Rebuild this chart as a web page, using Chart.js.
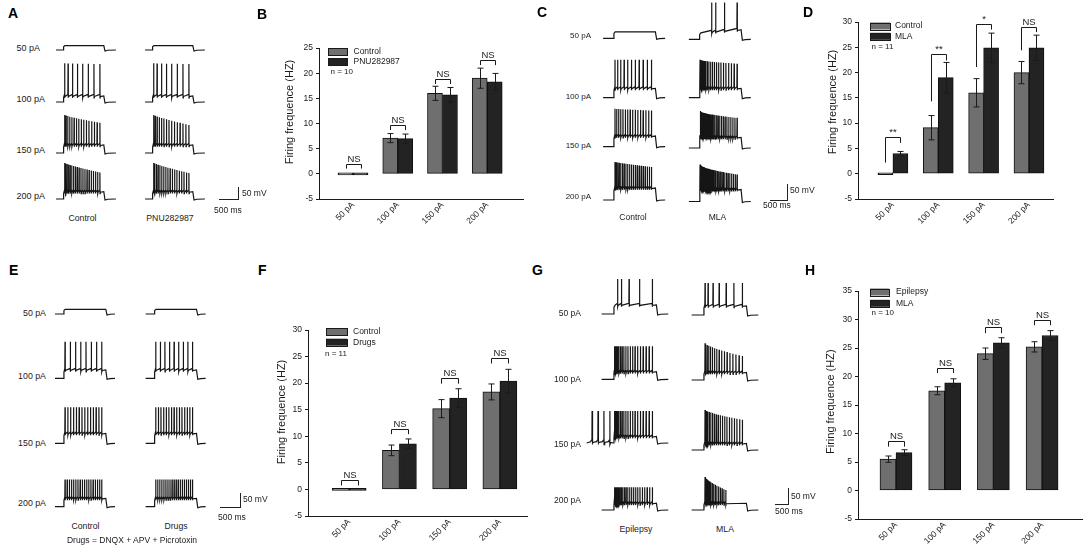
<!DOCTYPE html>
<html><head><meta charset="utf-8">
<title>Firing frequence figure</title>
<script src="https://cdn.jsdelivr.net/npm/chart.js@4.4.1/dist/chart.umd.min.js"></script>
<style>
html,body{margin:0;padding:0;background:#fff;}
body{width:1084px;height:548px;position:relative;overflow:hidden;font-family:"Liberation Sans",Arial,Helvetica,sans-serif;color:#1a1a1a;}
.t{position:absolute;white-space:nowrap;line-height:1;transform:translateY(-50%);}
.t.c{transform:translate(-50%,-50%);}
.t.r{transform:translate(-100%,-50%);}
.t.b{font-weight:bold;color:#000;}
canvas{position:absolute;}
.sb{position:absolute;background:#222;}
</style></head><body>
<canvas id="trA"></canvas><canvas id="trC"></canvas><canvas id="trE"></canvas><canvas id="trG"></canvas>
<canvas id="chB"></canvas><canvas id="chD"></canvas><canvas id="chF"></canvas><canvas id="chH"></canvas>
<script>
// ================= DATA =================
const currents = ['50 pA', '100 pA', '150 pA', '200 pA'];
const yTitle = 'Firing frequence (HZ)';

// ---- B : Control vs PNU282987
const bNames = ['Control', 'PNU282987'];
const bControl = [0, 7.1, 16.0, 19.0];
const bControlErr = [0, 0.9, 1.4, 2.0];
const bPnu = [0, 7.0, 15.7, 18.3];
const bPnuErr = [0, 0.9, 1.45, 1.65];
const bSig = ['NS', 'NS', 'NS', 'NS'];
const bBracketTop = [2.05, 9.7, 18.85, 22.6];
const bBracketLeft = [1.05, 8.7, 17.85, 21.6];
const bBracketRight = [1.05, 8.7, 17.85, 21.6];
const bYTicks = [-5, 0, 5, 10, 15, 20, 25];
const bN = 'n = 10';

// ---- D : Control vs MLA
const dNames = ['Control', 'MLA'];
const dControl = [0, 9.1, 16.0, 20.0];
const dControlErr = [0, 2.4, 2.8, 2.2];
const dMla = [4.0, 19.0, 24.9, 24.9];
const dMlaErr = [0.4, 3.0, 2.9, 2.5];
const dSig = ['**', '**', '*', 'NS'];
const dBracketTop = [7.3, 23.75, 29.7, 29.1];
const dBracketLeft = [2.2, 14.3, 21.1, 24.4];
const dBracketRight = [6.1, 22.4, 28.5, 28.0];
const dYTicks = [-5, 0, 5, 10, 15, 20, 25, 30];
const dN = 'n = 11';

// ---- F : Control vs Drugs
const fNames = ['Control', 'Drugs'];
const fControl = [0, 7.35, 15.2, 18.35];
const fControlErr = [0, 1.0, 1.7, 1.5];
const fDrugs = [0, 8.6, 17.2, 20.4];
const fDrugsErr = [0, 0.9, 1.75, 2.2];
const fSig = ['NS', 'NS', 'NS', 'NS'];
const fBracketTop = [1.8, 11.4, 21.05, 24.8];
const fBracketLegs = [0.75, 10.4, 19.9, 23.7];
const fYTicks = [-5, 0, 5, 10, 15, 20, 25, 30];
const fN = 'n = 11';

// ---- H : Epilepsy vs MLA
const hNames = ['Epilepsy', 'MLA'];
const hEpilepsy = [5.5, 17.5, 24.0, 25.2];
const hEpilepsyErr = [0.55, 0.7, 1.0, 0.9];
const hMla = [6.65, 18.9, 25.9, 27.2];
const hMlaErr = [0.5, 0.7, 0.9, 0.85];
const hSig = ['NS', 'NS', 'NS', 'NS'];
const hBracketTop = [8.6, 21.5, 28.6, 29.85];
const hBracketLegs = [7.7, 20.6, 27.6, 29.0];
const hYTicks = [-5, 0, 5, 10, 15, 20, 25, 30, 35];
const hN = 'n = 10';

// ---- Example traces (spike counts per 1 s step, amplitudes in mV above rest)
const aNames = ['Control', 'PNU282987'];
const aControlSpikes = [0, 8, 16, 20];
const aPnuSpikes = [0, 8, 15, 18];
const aPlateau = [17, 23, 31, 28];
const aControlPeakFirst = [0, 149, 146, 139];
const aControlPeakLast = [0, 146, 116, 102];
const aPnuPeakFirst = [0, 149, 146, 139];
const aPnuPeakLast = [0, 146, 108, 100];

const cNames = ['Control', 'MLA'];
const cControlSpikes = [0, 11, 16, 21];
const cMlaSpikes = [4, 22, 30, 34];
const cPlateau = [25, 36, 41, 46];
const cControlPeakFirst = [0, 146, 146, 146];
const cControlPeakLast = [0, 146, 139, 127];
const cMlaPeakFirst = [142, 146, 142, 142];
const cMlaPeakLast = [142, 131, 116, 104];
const cMlaLatency = [0.3, 0.02, 0.01, 0.01];
const cMlaRamp = [12, 0, 0, 0];

const eNames = ['Control', 'Drugs'];
const eControlSpikes = [0, 8, 14, 18];
const eDrugsSpikes = [0, 9, 15, 19];
const ePlateau = [18, 32, 38, 32];
const ePeak = [0, 141, 139, 105];
const eNote = 'Drugs = DNQX + APV + Picrotoxin';

const gNames = ['Epilepsy', 'MLA'];
const gEpilepsySpikes = [5, 20, 20, 24];
const gMlaSpikes = [7, 17, 20, 16];
const gEpilepsySpont = [0, 0, 4, 0];
const gPlateau = [35, 29, 25, 26];
const gEpilepsyPeak = [135, 127, 123, 88];
const gMlaPeakFirst = [123, 141, 154, 127];
const gMlaPeakLast = [123, 92, 116, 77];
const gEpilepsyLatency = [0.1, 0.02, 0.02, 0.02];
const gMlaStop = [0.93, 0.93, 0.93, 0.55];

const scaleBarText = ['50 mV', '500 ms'];

// ================= STYLE / LAYOUT =================
const FONT = '"Liberation Sans", Arial, Helvetica, sans-serif';
const GRAY = '#6f6f6f', DARK = '#232323', INK = '#1a1a1a';
Chart.defaults.font.family = FONT;
Chart.defaults.color = INK;
const MV_PER_PX = 3.85;

function txt(s, x, y, size, cls) {
  const d = document.createElement('div');
  d.className = 't' + (cls ? ' ' + cls : '');
  d.style.left = x + 'px'; d.style.top = y + 'px'; d.style.fontSize = size + 'px';
  d.textContent = s; document.body.appendChild(d); return d;
}
function rule(x, y, w, h) {
  const d = document.createElement('div');
  d.className = 'sb'; d.style.left = x + 'px'; d.style.top = y + 'px';
  d.style.width = w + 'px'; d.style.height = h + 'px'; document.body.appendChild(d);
}

// panel letters
[['A', 8, 13], ['B', 257, 13.5], ['C', 537, 12], ['D', 803, 12.3],
 ['E', 9, 270], ['F', 258, 270], ['G', 532, 270], ['H', 805, 270]].forEach(p => txt(p[0], p[1], p[2], 14, 'b'));

// ---- trace sweeps
function sweepPoints(s) {
  const pts = [];
  const dur = 1000;
  pts.push([-s.pre, 0]);
  if (s.spont > 0) {
    const a = -(s.pre - 125), b = -80;
    for (let i = 0; i < s.spont; i++) {
      const t = s.spont === 1 ? b : a + (b - a) * i / (s.spont - 1);
      pts.push([t - 35, 5], [t - 3, 13], [t, s.peak0], [t + 3, -6], [t + 18, 2]);
    }
  }
  pts.push([0, 0], [15, s.plateau * 0.75], [45, s.plateau]);
  const plat = t => s.plateau + s.ramp * t / dur;
  const n = s.spikes;
  if (n > 0) {
    const t0 = Math.max(25, dur * s.latency);
    const t1 = Math.max(t0, dur * s.stop - 30);
    for (let i = 0; i < n; i++) {
      const f = n === 1 ? 0 : i / (n - 1);
      const t = t0 + (t1 - t0) * Math.pow(f, s.expo);
      const pk = s.peak0 + (s.peak1 - s.peak0) * f;
      const p = plat(t);
      pts.push([t - 4, p + 6], [t, pk], [t + 3, p - 7], [t + 9, p - 2]);
    }
  }
  pts.push([dur - 5, plat(dur)], [dur + 25, -4], [dur + 90, -1], [dur + s.post, 0]);
  pts.sort((u, v) => u[0] - v[0]);
  return pts;
}

function tracePanel(id, g, cols) {
  const cv = document.getElementById(id);
  cv.style.left = g.left + 'px'; cv.style.top = g.top + 'px';
  cv.width = g.w; cv.height = g.h; cv.style.width = g.w + 'px'; cv.style.height = g.h + 'px';
  const pxPerMs = g.stepPx / 1000;
  const datasets = [];
  cols.forEach(col => {
    for (let r = 0; r < 4; r++) {
      const spec = {
        spikes: col.spikes[r], peak0: col.peak0[r], peak1: col.peak1[r],
        plateau: g.plateau[r], ramp: col.ramp ? col.ramp[r] : 0,
        latency: col.latency ? col.latency[r] : 0.04,
        stop: col.stop ? col.stop[r] : 0.93,
        spont: col.spont ? col.spont[r] : 0,
        expo: col.expo, pre: (col.spont && col.spont[r]) ? g.spontPre : g.pre, post: g.post
      };
      const x0 = (col.onX - g.left) / pxPerMs;
      const y0 = (g.top + g.h - col.base[r]) * MV_PER_PX;
      datasets.push({
        label: col.name + ' ' + currents[r],
        data: sweepPoints(spec).map(p => ({ x: x0 + p[0], y: y0 + p[1] })),
        borderColor: '#151515', borderWidth: 1.2, pointRadius: 0, tension: 0, fill: false
      });
    }
    txt(col.name, col.labelX, g.labelY, g.labelSize, 'c');
  });
  new Chart(cv, {
    type: 'line', data: { datasets },
    options: {
      responsive: false, animation: false, events: [],
      layout: { padding: 0 },
      scales: {
        x: { type: 'linear', display: false, min: 0, max: g.w / pxPerMs },
        y: { type: 'linear', display: false, min: 0, max: g.h * MV_PER_PX }
      },
      plugins: { legend: { display: false }, tooltip: { enabled: false } }
    }
  });
  currents.forEach((c, r) => {
    if (g.curAlign === 'r') txt(c, g.curX, g.curY[r], g.curSize, 'r');
    else txt(c, g.curX, g.curY[r], g.curSize);
  });
  const sb = g.bar;
  rule(sb.x, sb.y0, 1, sb.y1 - sb.y0 + 1);
  rule(sb.hx, sb.y1, sb.x - sb.hx + 1, 1);
  txt(scaleBarText[0], sb.mvX, sb.mvY, 8.5);
  txt(scaleBarText[1], sb.msX, sb.msY, 8.5);
}

tracePanel('trA', {
  left: 50, top: 20, w: 175, h: 190, stepPx: 41, pre: 170, post: 290, spontPre: 170,
  plateau: aPlateau, labelY: 218.3, labelSize: 8.7,
  curX: 16.5, curY: [48.3, 99, 150, 196], curSize: 9, curAlign: 'l',
  bar: { x: 238, y0: 186.5, y1: 199, hx: 219, mvX: 242, mvY: 192.7, msX: 214, msY: 210 }
}, [
  { name: aNames[0], spikes: aControlSpikes, peak0: aControlPeakFirst, peak1: aControlPeakLast,
    expo: 1.2, onX: 63, base: [50, 102, 153, 199], labelX: 82.5 },
  { name: aNames[1], spikes: aPnuSpikes, peak0: aPnuPeakFirst, peak1: aPnuPeakLast,
    expo: 1.2, onX: 152, base: [50, 102, 153, 199], labelX: 170 }
]);

tracePanel('trC', {
  left: 595, top: 0, w: 165, h: 212, stepPx: 42.3, pre: 240, post: 225, spontPre: 240,
  plateau: cPlateau, labelY: 217.3, labelSize: 8.5,
  curX: 591, curY: [36, 96.7, 146, 196.7], curSize: 8, curAlign: 'r',
  bar: { x: 786.5, y0: 184, y1: 200, hx: 770, mvX: 790, mvY: 190, msX: 763, msY: 204.5 }
}, [
  { name: cNames[0], spikes: cControlSpikes, peak0: cControlPeakFirst, peak1: cControlPeakLast,
    expo: 1.15, onX: 613.3, base: [38.3, 97.7, 146.7, 200], labelX: 633 },
  { name: cNames[1], spikes: cMlaSpikes, peak0: cMlaPeakFirst, peak1: cMlaPeakLast,
    latency: cMlaLatency, ramp: cMlaRamp,
    expo: 1.7, onX: 699, base: [39.3, 97.7, 148, 201.5], labelX: 717.5 }
]);

tracePanel('trE', {
  left: 50, top: 290, w: 170, h: 225, stepPx: 42.7, pre: 195, post: 210, spontPre: 195,
  plateau: ePlateau, labelY: 526, labelSize: 8.7,
  curX: 46, curY: [313.3, 376, 442.7, 503.3], curSize: 8.8, curAlign: 'r',
  bar: { x: 240, y0: 492.7, y1: 506.7, hx: 220, mvX: 243, mvY: 499.3, msX: 218, msY: 516.7 }
}, [
  { name: eNames[0], spikes: eControlSpikes, peak0: ePeak, peak1: ePeak,
    expo: 1.0, onX: 63.3, base: [314, 378.3, 443.3, 506.7], labelX: 85.5 },
  { name: eNames[1], spikes: eDrugsSpikes, peak0: ePeak, peak1: ePeak,
    expo: 1.0, onX: 154, base: [314, 378.3, 443.3, 506.7], labelX: 176 }
]);
txt(eNote, 132, 540, 8.5, 'c');

tracePanel('trG', {
  left: 575, top: 272, w: 190, h: 245, stepPx: 43.3, pre: 270, post: 270, spontPre: 615,
  plateau: gPlateau, labelY: 529.3, labelSize: 8.7,
  curX: 581, curY: [313.3, 379.3, 444, 500], curSize: 8.5, curAlign: 'r',
  bar: { x: 787.5, y0: 488, y1: 504, hx: 775, mvX: 791, mvY: 496, msX: 775, msY: 511 }
}, [
  { name: gNames[0], spikes: gEpilepsySpikes, peak0: gEpilepsyPeak, peak1: gEpilepsyPeak,
    latency: gEpilepsyLatency, spont: gEpilepsySpont,
    expo: 1.6, onX: 613.3, base: [314, 379.3, 443, 510], labelX: 636 },
  { name: gNames[1], spikes: gMlaSpikes, peak0: gMlaPeakFirst, peak1: gMlaPeakLast,
    stop: gMlaStop,
    expo: 1.4, onX: 703.3, base: [315, 380, 450, 510], labelX: 725 }
]);

// ---- bar charts
const decorPlugin = {
  id: 'decor',
  afterDatasetsDraw(chart, args, o) {
    const ctx = chart.ctx, ys = chart.scales.y, ca = chart.chartArea;
    const line = (x1, y1, x2, y2) => { ctx.beginPath(); ctx.moveTo(x1, y1); ctx.lineTo(x2, y2); ctx.stroke(); };
    ctx.save();
    ctx.strokeStyle = INK; ctx.lineWidth = 1; ctx.fillStyle = INK;
    o.errors.forEach((errs, di) => {
      const meta = chart.getDatasetMeta(di);
      const vals = chart.data.datasets[di].data;
      meta.data.forEach((bar, j) => {
        const e = errs[j]; if (!e) return;
        const v = vals[j].y;
        const x = Math.round(bar.x) + 0.5;
        const y1 = ys.getPixelForValue(v + e), y2 = ys.getPixelForValue(v - e);
        line(x, y1, x, y2); line(x - 3, y1, x + 3, y1); line(x - 3, y2, x + 3, y2);
      });
    });
    const m0 = chart.getDatasetMeta(0), m1 = chart.getDatasetMeta(1);
    ctx.font = '9.5px ' + FONT; ctx.textAlign = 'center'; ctx.textBaseline = 'alphabetic';
    o.sig.forEach((s, j) => {
      const x0 = Math.round(m0.data[j].x) + 0.5, x1 = Math.round(m1.data[j].x) + 0.5;
      const yt = Math.round(ys.getPixelForValue(o.top[j])) + 0.5;
      const yl = ys.getPixelForValue(o.left[j]), yr = ys.getPixelForValue(o.right[j]);
      ctx.beginPath(); ctx.moveTo(x0, yl); ctx.lineTo(x0, yt); ctx.lineTo(x1, yt); ctx.lineTo(x1, yr); ctx.stroke();
      ctx.fillText(s, (x0 + x1) / 2, yt - 3);
    });
    const lg = o.legend;
    ctx.font = '8.5px ' + FONT; ctx.textAlign = 'left'; ctx.textBaseline = 'middle';
    chart.data.datasets.forEach((ds, k) => {
      const cy = ca.top + lg.rows[k];
      ctx.fillStyle = ds.backgroundColor;
      ctx.fillRect(ca.left + lg.x, cy - 3.5, lg.w, 7);
      ctx.strokeRect(Math.round(ca.left + lg.x) + 0.5, Math.round(cy - 3.5) + 0.5, lg.w, 7);
      ctx.fillStyle = INK;
      ctx.fillText(ds.label, ca.left + lg.tx, cy);
    });
    ctx.font = '8px ' + FONT;
    ctx.fillText(o.n, ca.left + lg.nx, ca.top + lg.ny);
    ctx.font = '11px ' + FONT; ctx.textAlign = 'center'; ctx.textBaseline = 'middle';
    ctx.translate(ca.left - o.titleOff, ca.top + o.titleDY);
    ctx.rotate(-Math.PI / 2);
    ctx.fillText(chart.options.scales.y.title.text, 0, 0);
    ctx.restore();
  }
};

function barChart(id, g, d) {
  const cv = document.getElementById(id);
  const left = g.L - 70, top = g.T - 30;
  const w = g.R - left + 10, h = g.B - top + 40;
  cv.style.left = left + 'px'; cv.style.top = top + 'px';
  cv.width = w; cv.height = h; cv.style.width = w + 'px'; cv.style.height = h + 'px';
  const mk = (label, vals, color) => ({
    label, data: vals.map((v, i) => ({ x: i, y: v })),
    backgroundColor: color, borderColor: '#111', borderWidth: 1, borderSkipped: false,
    barThickness: g.thick, minBarLength: 2
  });
  new Chart(cv, {
    type: 'bar',
    data: { datasets: [mk(d.names[0], d.a, GRAY), mk(d.names[1], d.b, DARK)] },
    options: {
      responsive: false, animation: false, events: [],
      layout: { padding: { left: 0, top: 30, right: 10, bottom: 0 } },
      scales: {
        x: {
          type: 'linear', min: g.xMin, max: g.xMax, offset: false,
          afterFit: s => { s.height = 40; },
          afterBuildTicks: s => { s.ticks = currents.map((c, i) => ({ value: i })); },
          grid: { display: false, drawTicks: false, offset: false },
          border: { display: true, color: INK, width: 1 },
          ticks: {
            autoSkip: false, minRotation: 45, maxRotation: 45, padding: 1,
            font: { size: 8.5 }, color: INK,
            callback: v => currents[v] !== undefined ? currents[v] : ''
          }
        },
        y: {
          type: 'linear', min: d.yTicks[0], max: d.yTicks[d.yTicks.length - 1],
          afterFit: s => { s.width = 70; },
          afterBuildTicks: s => { s.ticks = d.yTicks.map(v => ({ value: v })); },
          grid: { drawOnChartArea: false, drawTicks: true, tickLength: 3, color: INK },
          border: { display: true, color: INK, width: 1 },
          ticks: { padding: 3, font: { size: 8.5 }, color: INK },
          title: { display: false, text: yTitle }
        }
      },
      plugins: {
        legend: { display: false }, tooltip: { enabled: false },
        decor: {
          errors: [d.ea, d.eb], sig: d.sig, top: d.top, left: d.left, right: d.right,
          legend: g.legend, n: d.n, titleOff: g.titleOff, titleDY: g.titleY - g.T
        }
      }
    },
    plugins: [decorPlugin]
  });
}

barChart('chB', { L: 319, R: 523, T: 48, B: 199, xMin: -0.76, xMax: 3.8, thick: 15, titleOff: 29, titleY: 112,
  legend: { x: 9, w: 19, rows: [3.7, 13.5], tx: 34.5, nx: 11.5, ny: 23.7 } },
  { names: bNames, a: bControl, b: bPnu, ea: bControlErr, eb: bPnuErr, sig: bSig,
    top: bBracketTop, left: bBracketLeft, right: bBracketRight, yTicks: bYTicks, n: bN });

barChart('chD', { L: 858, R: 1053, T: 22, B: 199, xMin: -0.77, xMax: 3.53, thick: 15, titleOff: 24.6, titleY: 102,
  legend: { x: 12, w: 20, rows: [4, 14.3], tx: 37, nx: 13.5, ny: 24.7 } },
  { names: dNames, a: dControl, b: dMla, ea: dControlErr, eb: dMlaErr, sig: dSig,
    top: dBracketTop, left: dBracketLeft, right: dBracketRight, yTicks: dYTicks, n: dN });

barChart('chF', { L: 308, R: 527, T: 330, B: 516, xMin: -0.82, xMax: 3.54, thick: 17, titleOff: 26.3, titleY: 412,
  legend: { x: 18, w: 21, rows: [1.7, 12.2], tx: 45, nx: 17, ny: 23.3 } },
  { names: fNames, a: fControl, b: fDrugs, ea: fControlErr, eb: fDrugsErr, sig: fSig,
    top: fBracketTop, left: fBracketLegs, right: fBracketLegs, yTicks: fYTicks, n: fN });

barChart('chH', { L: 858, R: 1082, T: 291, B: 519, xMin: -0.78, xMax: 3.82, thick: 16, titleOff: 27, titleY: 401.7,
  legend: { x: 12, w: 19, rows: [1, 12.3], tx: 38, nx: 13.5, ny: 21.7 } },
  { names: hNames, a: hEpilepsy, b: hMla, ea: hEpilepsyErr, eb: hMlaErr, sig: hSig,
    top: hBracketTop, left: hBracketLegs, right: hBracketLegs, yTicks: hYTicks, n: hN });
</script>
</body></html>
